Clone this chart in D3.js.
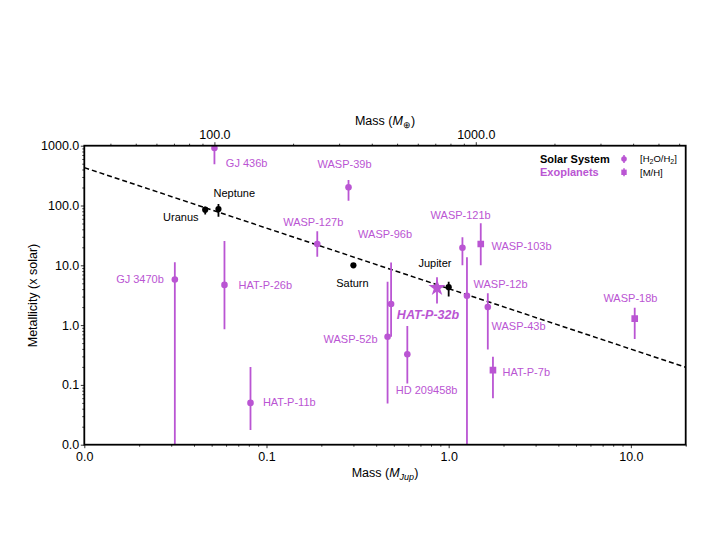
<!DOCTYPE html>
<html>
<head>
<meta charset="utf-8">
<script src="https://cdn.jsdelivr.net/npm/d3@7"></script>
<style>
  html, body { margin: 0; padding: 0; background: #fff; }
  svg text { font-family: "Liberation Sans", Arial, Helvetica, sans-serif; }
</style>
</head>
<body>
<svg id="chart" width="715" height="553"></svg>
<script>
// ---------------- DATA ----------------
const exoNames   = ["GJ 436b","GJ 3470b","HAT-P-26b","HAT-P-11b","WASP-127b","WASP-39b","WASP-96b","WASP-52b",
                    "HD 209458b","HAT-P-32b","WASP-121b","WASP-103b","WASP-12b","WASP-43b","HAT-P-7b","WASP-18b"];
const exoMass    = [0.0518, 0.0314, 0.0588, 0.0817, 0.190, 0.282, 0.483, 0.462,
                    0.593, 0.863, 1.19, 1.50, 1.26, 1.64, 1.75, 10.5];
const exoMetal   = [915, 5.8, 4.7, 0.050, 22.7, 201, 2.25, 0.64,
                    0.325, 4.2, 19.7, 22.7, 3.1, 2.0, 0.177, 1.28];
const exoErrLow  = [490, 0.001, 0.85, 0.0176, 13.9, 120, 0.64, 0.049,
                    0.106, 2.3, 10.0, 10.0, 0.001, 0.39, 0.060, 0.586];
const exoErrHigh = [5000, 11.2, 25.5, 0.20, 37, 267, 11.1, 5.3,
                    0.966, 6.3, 29.4, 50.4, 13.6, 3.4, 0.296, 1.95];
const exoKind    = ["H2O","H2O","H2O","H2O","H2O","H2O","H2O","H2O",
                    "H2O","star","H2O","MH","H2O","H2O","MH","MH"];

const solNames   = ["Uranus","Neptune","Saturn","Jupiter"];
const solMass    = [0.0461, 0.0545, 0.300, 1.00];
const solMetal   = [85, 87, 10.0, 4.3];
const solErrLow  = [71, 65, null, 3.0];
const solErrHigh = [95, 106, null, 5.3];

const fitMass    = [0.01, 20];
const fitMetal   = [430, 0.197];

const xTickValues   = [0.01, 0.1, 1, 10];
const yTickValues   = [0.01, 0.1, 1, 10, 100, 1000];
const topTickValues = [100, 1000];
const jupToEarth = 317.8;

// ---------------- LAYOUT ----------------
const W = 715, H = 553;
const margin = {left: 84.3, top: 145.7, right: 29.3, bottom: 108.3};
const iw = W - margin.left - margin.right;
const ih = H - margin.top - margin.bottom;
const purple = "#BA55D3";

// label offsets (pixels from marker) : [dx, dy, anchor]
const labelPos = {
  "GJ 436b":[11.4,14.7,"start"], "GJ 3470b":[-11,0,"end"], "HAT-P-26b":[14,0,"start"],
  "HAT-P-11b":[12.4,-1,"start"], "WASP-127b":[-4,-21.7,"middle"], "WASP-39b":[-4,-23.3,"middle"],
  "WASP-96b":[-6,-70,"middle"], "WASP-52b":[-10,2.3,"end"], "HD 209458b":[19.3,36,"middle"],
  "HAT-P-32b":[-9,27.3,"middle"], "WASP-121b":[-1.8,-33,"middle"], "WASP-103b":[10.7,1.7,"start"],
  "WASP-12b":[6.6,-11.7,"start"], "WASP-43b":[3.7,19.4,"start"], "HAT-P-7b":[9.6,2,"start"],
  "WASP-18b":[-4.3,-20.4,"middle"],
  "Uranus":[-6.7,7,"end"], "Neptune":[-5,-16.3,"start"], "Saturn":[-1,18,"middle"], "Jupiter":[-13.7,-24,"middle"]
};

const svg = d3.select("#chart");
const g = svg.append("g").attr("transform", `translate(${margin.left},${margin.top})`);

const x = d3.scaleLog().domain([0.01, 20]).range([0, iw]);
const y = d3.scaleLog().domain([0.01, 1000]).range([ih, 0]);
const xTop = d3.scaleLog().domain([0.1 * jupToEarth, 20 * jupToEarth]).range([0, iw]);

function minorTicks(scale, majors) {
  const [a, b] = scale.domain();
  const out = [];
  for (let e = Math.floor(Math.log10(a)); e <= Math.ceil(Math.log10(b)); e++) {
    for (let k = 2; k <= 9; k++) {
      const v = k * Math.pow(10, e);
      if (v >= a * 0.9999 && v <= b * 1.0001) out.push(v);
    }
  }
  return out;
}
const fmt = d3.format(".1f");

// axes
function styleAxis(sel) {
  sel.select(".domain").remove();
  sel.selectAll("line").attr("stroke", "#000").attr("stroke-width", 0.8);
  sel.selectAll("text").attr("font-size", "12.5px").attr("fill", "#000");
}
g.append("g").attr("transform", `translate(0,${ih})`)
  .call(d3.axisBottom(x).tickValues(minorTicks(x)).tickSize(2).tickFormat(""))
  .call(styleAxis);
g.append("g").attr("transform", `translate(0,${ih})`)
  .call(d3.axisBottom(x).tickValues(xTickValues).tickSize(3.5).tickPadding(3.5).tickFormat(fmt))
  .call(styleAxis);
g.append("g")
  .call(d3.axisLeft(y).tickValues(minorTicks(y)).tickSize(2).tickFormat(""))
  .call(styleAxis);
g.append("g")
  .call(d3.axisLeft(y).tickValues(yTickValues).tickSize(3.5).tickPadding(1.5).tickFormat(fmt))
  .call(styleAxis);
g.append("g")
  .call(d3.axisTop(xTop).tickValues(minorTicks(xTop)).tickSize(2).tickFormat(""))
  .call(styleAxis);
g.append("g")
  .call(d3.axisTop(xTop).tickValues(topTickValues).tickSize(3.5).tickPadding(3.5).tickFormat(fmt))
  .call(styleAxis);

// clip
svg.append("defs").append("clipPath").attr("id", "clip")
  .append("rect").attr("width", iw).attr("height", ih);
const plot = g.append("g").attr("clip-path", "url(#clip)");

// fit line
plot.append("path")
  .datum(fitMass.map((m, i) => [m, fitMetal[i]]))
  .attr("d", d3.line().x(d => x(d[0])).y(d => y(d[1])))
  .attr("fill", "none").attr("stroke", "#000").attr("stroke-width", 1.5)
  .attr("stroke-dasharray", "5,3");

// exoplanets
const exo = exoNames.map((n, i) => ({name: n, m: exoMass[i], z: exoMetal[i], lo: exoErrLow[i], hi: exoErrHigh[i], kind: exoKind[i]}));
plot.selectAll(".exoerr").data(exo).join("line")
  .attr("x1", d => x(d.m)).attr("x2", d => x(d.m))
  .attr("y1", d => y(d.lo)).attr("y2", d => y(d.hi))
  .attr("stroke", purple).attr("stroke-width", 1.8);
plot.selectAll(".exomark").data(exo).join("path")
  .attr("transform", d => `translate(${x(d.m)},${y(d.z)})`)
  .attr("d", d => d.kind === "MH" ? d3.symbol(d3.symbolSquare, 44)()
                  : d.kind === "star" ? d3.symbol(d3.symbolStar, 90)()
                  : d3.symbol(d3.symbolCircle, 34)())
  .attr("fill", purple);

// solar system
const sol = solNames.map((n, i) => ({name: n, m: solMass[i], z: solMetal[i], lo: solErrLow[i], hi: solErrHigh[i]}));
plot.selectAll(".solerr").data(sol.filter(d => d.lo != null)).join("line")
  .attr("x1", d => x(d.m)).attr("x2", d => x(d.m))
  .attr("y1", d => y(d.lo)).attr("y2", d => y(d.hi))
  .attr("stroke", "#000").attr("stroke-width", 1.8);
plot.selectAll(".solmark").data(sol).join("circle")
  .attr("cx", d => x(d.m)).attr("cy", d => y(d.z)).attr("r", 3.1)
  .attr("fill", "#000");

// labels
g.selectAll(".exolab").data(exo).join("text")
  .attr("x", d => x(d.m) + labelPos[d.name][0])
  .attr("y", d => y(d.z) + labelPos[d.name][1])
  .attr("dy", "0.35em")
  .attr("text-anchor", d => labelPos[d.name][2])
  .attr("font-size", d => d.kind === "star" ? "12.5px" : "11px")
  .attr("font-weight", d => d.kind === "star" ? "bold" : "normal")
  .attr("font-style", d => d.kind === "star" ? "italic" : "normal")
  .attr("fill", purple)
  .text(d => d.name);
g.selectAll(".sollab").data(sol).join("text")
  .attr("x", d => x(d.m) + labelPos[d.name][0])
  .attr("y", d => y(d.z) + labelPos[d.name][1])
  .attr("dy", "0.35em")
  .attr("text-anchor", d => labelPos[d.name][2])
  .attr("font-size", "11px")
  .attr("fill", "#000")
  .text(d => d.name);

// frame
g.append("rect").attr("width", iw).attr("height", ih)
  .attr("fill", "none").attr("stroke", "#000").attr("stroke-width", 1.8);

// axis titles
const bt = svg.append("text").attr("x", margin.left + iw / 2).attr("y", 472.7).attr("dy", "0.35em")
  .attr("text-anchor", "middle").attr("font-size", "12.5px");
bt.append("tspan").text("Mass (");
bt.append("tspan").attr("font-style", "italic").text("M");
bt.append("tspan").attr("font-style", "italic").attr("font-size", "9px").attr("dy", "3").text("Jup");
bt.append("tspan").attr("dy", "-3").text(")");

const tt = svg.append("text").attr("x", margin.left + iw / 2).attr("y", 120.7).attr("dy", "0.35em")
  .attr("text-anchor", "middle").attr("font-size", "12.5px");
tt.append("tspan").text("Mass (");
tt.append("tspan").attr("font-style", "italic").text("M");
tt.append("tspan").attr("font-size", "9px").attr("dy", "3").text("⊕");
tt.append("tspan").attr("dy", "-3").text(")");

svg.append("text").attr("transform", "translate(32.7,295.5) rotate(-90)").attr("dy", "0.35em")
  .attr("text-anchor", "middle").attr("font-size", "12.5px").text("Metallicity (x solar)");

// legend
const lg = svg.append("g");
lg.append("text").attr("x", 540).attr("y", 159).attr("dy", "0.35em").attr("font-size", "11px")
  .attr("font-weight", "bold").attr("fill", "#000").text("Solar System");
lg.append("text").attr("x", 540).attr("y", 172.3).attr("dy", "0.35em").attr("font-size", "11px")
  .attr("font-weight", "bold").attr("fill", purple).text("Exoplanets");
lg.append("line").attr("x1", 624).attr("x2", 624).attr("y1", 155).attr("y2", 163).attr("stroke", purple).attr("stroke-width", 1.5);
lg.append("circle").attr("cx", 624).attr("cy", 159).attr("r", 2.8).attr("fill", purple);
lg.append("line").attr("x1", 624).attr("x2", 624).attr("y1", 168.3).attr("y2", 176.3).attr("stroke", purple).attr("stroke-width", 1.5);
lg.append("rect").attr("x", 621.3).attr("y", 169.6).attr("width", 5.4).attr("height", 5.4).attr("fill", purple);
const l1 = lg.append("text").attr("x", 640).attr("y", 159).attr("dy", "0.35em").attr("font-size", "9.5px").attr("fill", "#000");
l1.append("tspan").text("[H");
l1.append("tspan").attr("font-size", "7px").attr("dy", "2").text("2");
l1.append("tspan").attr("dy", "-2").text("O/H");
l1.append("tspan").attr("font-size", "7px").attr("dy", "2").text("2");
l1.append("tspan").attr("dy", "-2").text("]");
lg.append("text").attr("x", 640).attr("y", 172.3).attr("dy", "0.35em").attr("font-size", "9.5px").attr("fill", "#000").text("[M/H]");
</script>
</body>
</html>
